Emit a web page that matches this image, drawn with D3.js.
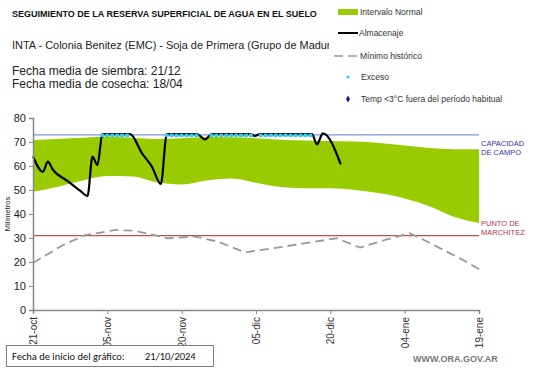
<!DOCTYPE html>
<html><head><meta charset="utf-8">
<script src="https://cdn.jsdelivr.net/npm/d3@7"></script>
<style>body{margin:0;background:#fff;font-family:Arial,"Liberation Sans",sans-serif}</style>
</head><body><svg id="c" width="541" height="368"></svg>
<script>
// ---- data (day 0 = 21/10/2024) ----
const tickDays = [0, 15, 30, 45, 60, 75, 90];
const tickLabels = ["21-oct", "05-nov", "20-nov", "05-dic", "20-dic", "04-ene", "19-ene"];
const yTicks = [0, 10, 20, 30, 40, 50, 60, 70, 80];
const bandDays = [0, 5, 10, 15, 20, 25, 30, 35, 40, 45, 50, 55, 60, 65, 70, 75, 80, 85, 90];
const bandLow  = [49.3, 51.4, 54.0, 55.8, 55.6, 53.2, 52.3, 54.0, 54.8, 53.0, 51.2, 50.7, 50.7, 50.0, 48.6, 46.5, 43.2, 38.8, 36.3];
const bandHigh = [70.8, 71.3, 71.8, 72.2, 71.8, 71.2, 71.6, 72.1, 72.0, 71.6, 70.9, 70.6, 70.4, 70.2, 69.6, 68.5, 67.5, 67.0, 67.0];
const minDays = [0, 6, 10.5, 16.5, 20.6, 27.2, 32.7, 37.3, 42.8, 48.4, 61.3, 66, 71.4, 76, 78.7, 86.8, 90];
const minVals = [19.6, 27, 31.2, 33.3, 33, 29.9, 30.6, 28.5, 24, 25.7, 29.9, 26, 29.4, 32, 29.4, 20.8, 17];
const almDays = [0, 2, 3, 4, 7, 9.5, 11, 12, 13, 14, 19.6, 22, 24, 25.8, 27, 33.1, 34.7, 36.1, 43.8, 44.8, 45.8, 56.3, 57.3, 58.5, 62.1];
const almVals = [64, 57.6, 61.8, 58.5, 53.7, 49.7, 47.5, 63.9, 60.4, 73.3, 73.3, 65.3, 59.7, 52.5, 73.3, 73.3, 71.1, 73.3, 73.3, 72.5, 73.3, 73.3, 69, 73.6, 60.7];
const excesoDays = [14, 15, 16, 17, 18, 19, 27, 28, 29, 30, 31, 32, 33, 36, 37, 38, 39, 40, 41, 42, 43, 44, 46, 47, 48, 49, 50, 51, 52, 53, 54, 55, 56];
const excesoVal = 73.0;
const capacidad = 73;
const marchitez = 31;

const svg = d3.select("#c");
const x = d3.scaleLinear().domain([0, 90]).range([33, 479]);
const y = d3.scaleLinear().domain([0, 80]).range([310, 118]);

// band
const band = bandDays.map((d, i) => ({d, lo: bandLow[i], hi: bandHigh[i]}));
svg.append("path").datum(band)
  .attr("fill", "#99cc00")
  .attr("d", d3.area().x(p => x(p.d)).y0(p => y(p.lo)).y1(p => y(p.hi)).curve(d3.curveMonotoneX));

// reference lines
svg.append("line").attr("x1", x(0)).attr("x2", x(90)).attr("y1", y(capacidad)).attr("y2", y(capacidad))
  .attr("stroke", "#7b96dc").attr("stroke-width", 1.2);
svg.append("line").attr("x1", x(0)).attr("x2", x(90)).attr("y1", y(marchitez)).attr("y2", y(marchitez))
  .attr("stroke", "#c0504d").attr("stroke-width", 1.2);

// minimo historico
svg.append("path").datum(minDays.map((d, i) => [d, minVals[i]]))
  .attr("fill", "none").attr("stroke", "#999").attr("stroke-width", 1.8).attr("stroke-dasharray", "9,5")
  .attr("d", d3.line().x(p => x(p[0])).y(p => y(p[1])));

// almacenaje
svg.append("path").datum(almDays.map((d, i) => [d, almVals[i]]))
  .attr("fill", "none").attr("stroke", "#000").attr("stroke-width", 2.2).attr("stroke-linejoin", "round")
  .attr("d", d3.line().x(p => x(p[0])).y(p => y(p[1])).curve(d3.curveMonotoneX));

// exceso markers
svg.append("g").selectAll("rect").data(excesoDays).join("rect")
  .attr("x", d => x(d) - 2).attr("y", y(excesoVal) - 1.2).attr("width", 3.8).attr("height", 3.4)
  .attr("fill", "#33ccee");

// axes
const gy = svg.append("g").attr("transform", "translate(33,0)")
  .call(d3.axisLeft(y).tickValues(yTicks).tickSize(4).tickPadding(3));
gy.select(".domain").attr("stroke", "#888").attr("stroke-width", 1.5);
gy.selectAll(".tick line").attr("stroke", "#888");
gy.selectAll("text").attr("font-size", 11).attr("fill", "#222").attr("font-family", "Arial");

const gx = svg.append("g").attr("transform", "translate(0,310)")
  .call(d3.axisBottom(x).tickValues(tickDays).tickFormat((d, i) => tickLabels[i]).tickSize(4));
gx.select(".domain").attr("stroke", "#888").attr("stroke-width", 1.5);
gx.selectAll(".tick line").attr("stroke", "#888");
gx.selectAll("text").attr("font-size", 10).attr("fill", "#333").attr("font-family", "Arial")
  .attr("transform", "rotate(-90)").attr("text-anchor", "end").attr("dy", "0.35em").attr("x", -7).attr("y", 0);

// y label
svg.append("text").attr("transform", "translate(10,214) rotate(-90)").attr("text-anchor", "middle")
  .attr("font-size", 7.5).attr("fill", "#222").text("Milímetros");

// right labels
const rl = [["CAPACIDAD", 146, "#3333aa"], ["DE  CAMPO", 155, "#3333aa"], ["PUNTO  DE", 226, "#c0304d"], ["MARCHITEZ", 235, "#c0304d"]];
rl.forEach(r => svg.append("text").attr("x", 481).attr("y", r[1]).attr("font-size", 7.5).attr("fill", r[2]).text(r[0]));

// titles
svg.append("text").attr("x", 12).attr("y", 17).attr("font-size", 9).attr("font-weight", "bold").attr("fill", "#111")
  .text("SEGUIMIENTO DE LA RESERVA SUPERFICIAL DE AGUA EN EL SUELO");
svg.append("clipPath").attr("id", "cl").append("rect").attr("x", 0).attr("y", 30).attr("width", 329).attr("height", 30);
svg.append("text").attr("clip-path", "url(#cl)").attr("x", 12).attr("y", 49).attr("font-size", 11.8).attr("fill", "#222")
  .attr("textLength", 344).attr("lengthAdjust", "spacingAndGlyphs")
  .text("INTA - Colonia Benitez (EMC) - Soja de Primera (Grupo  de Madurez V)");
svg.append("text").attr("x", 12).attr("y", 75).attr("font-size", 12).attr("fill", "#222").text("Fecha media de siembra: 21/12");
svg.append("text").attr("x", 12).attr("y", 88).attr("font-size", 12).attr("fill", "#222").text("Fecha media de cosecha: 18/04");

// legend
const lg = svg.append("g").attr("font-size", 8.5).attr("fill", "#333");
lg.append("rect").attr("x", 338).attr("y", 9).attr("width", 20).attr("height", 6).attr("fill", "#99cc00");
lg.append("text").attr("x", 360).attr("y", 15).text("Intervalo Normal");
lg.append("line").attr("x1", 338).attr("x2", 358).attr("y1", 33).attr("y2", 33).attr("stroke", "#000").attr("stroke-width", 2);
lg.append("text").attr("x", 359).attr("y", 36).text("Almacenaje");
lg.append("line").attr("x1", 334).attr("x2", 357).attr("y1", 56).attr("y2", 56).attr("stroke", "#999").attr("stroke-width", 1.5).attr("stroke-dasharray", "9,5");
lg.append("text").attr("x", 360).attr("y", 59).text("Mínimo histórico");
lg.append("circle").attr("cx", 348).attr("cy", 77).attr("r", 1.6).attr("fill", "#33ccee");
lg.append("text").attr("x", 361).attr("y", 80).text("Exceso");
lg.append("path").attr("d", d3.symbol(d3.symbolDiamond, 14)()).attr("transform", "translate(348,99)").attr("fill", "#1a1a99");
lg.append("text").attr("x", 361).attr("y", 102).text("Temp <3°C fuera del período habitual");

// footer
svg.append("rect").attr("x", 6.5).attr("y", 345.5).attr("width", 207).attr("height", 21).attr("fill", "#fff").attr("stroke", "#8a7a7a");
svg.append("text").attr("x", 12).attr("y", 360).attr("font-size", 10.5).attr("fill", "#111").attr("font-family", "Carlito, 'Open Sans', Arial").text("Fecha de inicio del gráfico:");
svg.append("text").attr("x", 145).attr("y", 360).attr("font-size", 10.5).attr("fill", "#111").attr("font-family", "Carlito, 'Open Sans', Arial").text("21/10/2024");
svg.append("text").attr("x", 413).attr("y", 362).attr("font-size", 9).attr("font-weight", "bold").attr("fill", "#777").text("WWW.ORA.GOV.AR");
</script></body></html>
